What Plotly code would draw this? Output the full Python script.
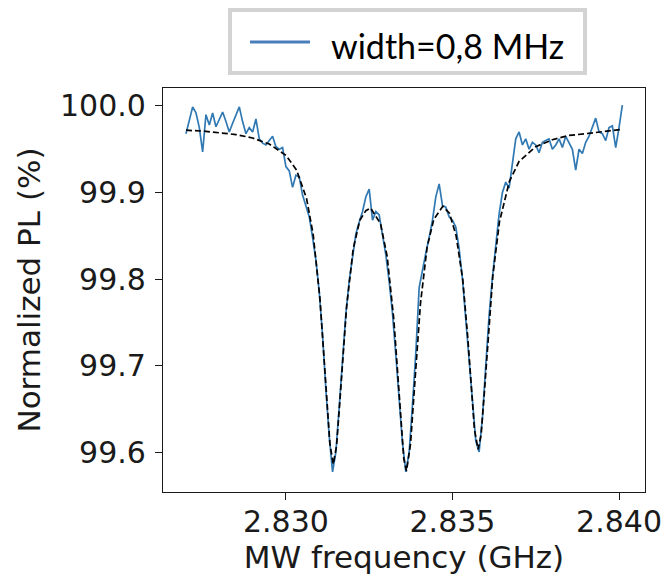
import plotly.graph_objects as go

# measured ODMR sweep (GHz, % of off-resonance PL)
freq = [
    2.8270, 2.8271, 2.8272, 2.8273, 2.8274, 2.8275, 2.8276, 2.8277, 2.8278, 2.8279,
    2.8280, 2.8281, 2.8282, 2.8283, 2.8284, 2.8285, 2.8286, 2.8287, 2.8288, 2.8289,
    2.8290, 2.8291, 2.8292, 2.8293, 2.8294, 2.8295, 2.8296, 2.8297, 2.8298, 2.8299,
    2.8300, 2.8301, 2.8302, 2.8303, 2.8304, 2.8305, 2.8306, 2.8307, 2.8308, 2.8309,
    2.8310, 2.8311, 2.8312, 2.8313, 2.8314, 2.8315, 2.8316, 2.8317, 2.8318, 2.8319,
    2.8320, 2.8321, 2.8322, 2.8323, 2.8324, 2.8325, 2.8326, 2.8327, 2.8328, 2.8329,
    2.8330, 2.8331, 2.8332, 2.8333, 2.8334, 2.8335, 2.8336, 2.8337, 2.8338, 2.8339,
    2.8340, 2.8341, 2.8342, 2.8343, 2.8344, 2.8345, 2.8346, 2.8347, 2.8348, 2.8349,
    2.8350, 2.8351, 2.8352, 2.8353, 2.8354, 2.8355, 2.8356, 2.8357, 2.8358, 2.8359,
    2.8360, 2.8361, 2.8362, 2.8363, 2.8364, 2.8365, 2.8366, 2.8367, 2.8368, 2.8369,
    2.8370, 2.8371, 2.8372, 2.8373, 2.8374, 2.8375, 2.8376, 2.8377, 2.8378, 2.8379,
    2.8380, 2.8381, 2.8382, 2.8383, 2.8384, 2.8385, 2.8386, 2.8387, 2.8388, 2.8389,
    2.8390, 2.8391, 2.8392, 2.8393, 2.8394, 2.8395, 2.8396, 2.8397, 2.8398, 2.8399,
    2.8400, 2.8401,
]
pl = [
    99.968, 99.985, 99.999, 99.992, 99.975, 99.947, 99.990, 99.978, 99.992, 99.976,
    99.985, 99.993, 99.982, 99.970, 99.980, 99.990, 99.999, 99.982, 99.968, 99.975,
    99.970, 99.985, 99.962, 99.957, 99.955, 99.960, 99.965, 99.953, 99.950, 99.952,
    99.930, 99.925, 99.906, 99.920, 99.918, 99.897, 99.885, 99.872, 99.848, 99.822,
    99.785, 99.735, 99.672, 99.618, 99.577, 99.600, 99.652, 99.712, 99.760, 99.798,
    99.828, 99.852, 99.866, 99.878, 99.895, 99.904, 99.868, 99.878, 99.874, 99.852,
    99.828, 99.797, 99.760, 99.712, 99.660, 99.610, 99.577, 99.600, 99.655, 99.715,
    99.790, 99.812, 99.830, 99.848, 99.868, 99.895, 99.910, 99.885, 99.883, 99.872,
    99.868, 99.860, 99.835, 99.800, 99.755, 99.705, 99.655, 99.613, 99.600, 99.640,
    99.700, 99.758, 99.802, 99.840, 99.875, 99.900, 99.912, 99.905, 99.935, 99.962,
    99.970, 99.955, 99.962, 99.950, 99.958, 99.955, 99.946, 99.958, 99.960, 99.962,
    99.950, 99.955, 99.962, 99.952, 99.965, 99.958, 99.950, 99.926, 99.950, 99.945,
    99.958, 99.965, 99.975, 99.986, 99.970, 99.968, 99.960, 99.975, 99.977, 99.952,
    99.975, 100.001,
]

# fitted curve (black dashed)
fit_freq = [
    2.82700, 2.82750, 2.82800, 2.82850, 2.82900, 2.82950, 2.83000, 2.83032, 2.83062,
    2.83082, 2.83102, 2.83112, 2.83122, 2.83132, 2.83142, 2.83152, 2.83162, 2.83172,
    2.83182, 2.83202, 2.83222, 2.83240, 2.83254, 2.83284, 2.83304, 2.83324, 2.83334,
    2.83344, 2.83354, 2.83362, 2.83374, 2.83384, 2.83394, 2.83404, 2.83424, 2.83444,
    2.83471, 2.83491, 2.83511, 2.83531, 2.83546, 2.83556, 2.83566, 2.83577, 2.83586,
    2.83596, 2.83606, 2.83621, 2.83641, 2.83671, 2.83700, 2.83750, 2.83800, 2.83850,
    2.83900, 2.83950, 2.84010,
]
fit_pl = [
    99.972, 99.971, 99.969, 99.967, 99.963, 99.956, 99.943, 99.926, 99.893,
    99.851, 99.778, 99.725, 99.664, 99.610, 99.586, 99.607, 99.659, 99.717,
    99.767, 99.835, 99.868, 99.879, 99.882, 99.864, 99.826, 99.753, 99.700,
    99.640, 99.592, 99.578, 99.609, 99.664, 99.723, 99.772, 99.837, 99.869,
    99.884, 99.876, 99.850, 99.799, 99.732, 99.677, 99.626, 99.603, 99.620,
    99.670, 99.728, 99.803, 99.866, 99.913, 99.936, 99.953, 99.961, 99.966,
    99.968, 99.970, 99.973,
]

x_ticks = [2.830, 2.835, 2.840]
y_ticks = [99.6, 99.7, 99.8, 99.9, 100.0]
legend_text = "width=0,8 MHz"

W, H = 667, 578
L, R, T, B = 163, 645, 88, 492
FONT = "DejaVu Sans, Verdana, sans-serif"


def px(x):
    return (x - L) / (R - L)


def py(y):
    return (B - y) / (B - T)


fig = go.Figure()
fig.add_trace(go.Scatter(x=freq, y=pl, mode="lines", showlegend=False,
                         line=dict(color="#3179b3", width=1.7)))
fig.add_trace(go.Scatter(x=fit_freq, y=fit_pl, mode="lines", showlegend=False,
                         line=dict(color="black", width=1.7, dash="6px,3px")))

axis_common = dict(showline=True, linecolor="#1a1a1a", linewidth=1.3, mirror=True,
                   ticks="outside", ticklen=7, tickwidth=1.3, tickcolor="#1a1a1a",
                   showgrid=False, zeroline=False, automargin=False,
                   tickfont=dict(family=FONT, size=30, color="#1a1a1a"))

fig.update_xaxes(range=[2.82631, 2.84078], tickvals=x_ticks, tickformat=".3f",
                 ticklabelstandoff=-4,
                 title=dict(text="MW frequency (GHz)", standoff=2,
                            font=dict(family=FONT, size=31, color="#1a1a1a")),
                 **axis_common)
fig.update_yaxes(range=[99.5538, 100.0208], tickvals=y_ticks, tickformat=".1f",
                 ticklabelstandoff=3,
                 title=dict(text="Normalized PL (%)", standoff=10,
                            font=dict(family=FONT, size=31, color="#1a1a1a")),
                 **axis_common)

# PowerPoint-style legend box over the top of the axes
fig.add_shape(type="rect", xref="paper", yref="paper",
              x0=px(230), x1=px(585), y0=py(73), y1=py(10),
              line=dict(color="#d3d3d3", width=4), fillcolor="white", layer="above")
fig.add_shape(type="line", xref="paper", yref="paper",
              x0=px(250), x1=px(310), y0=py(42), y1=py(42),
              line=dict(color="#4a7ebb", width=3), layer="above")
fig.add_annotation(text=legend_text, xref="paper", yref="paper",
                   x=px(329), y=py(46), xanchor="left", yanchor="middle",
                   showarrow=False, font=dict(family="Lato", size=34, color="black"))

fig.update_layout(width=W, height=H, margin=dict(l=L, r=W - R, t=T, b=H - B),
                  plot_bgcolor="white", paper_bgcolor="white", showlegend=False)

fig.write_html("out.html", config={"displayModeBar": False},
               post_script="document.body.style.margin = '0';")
